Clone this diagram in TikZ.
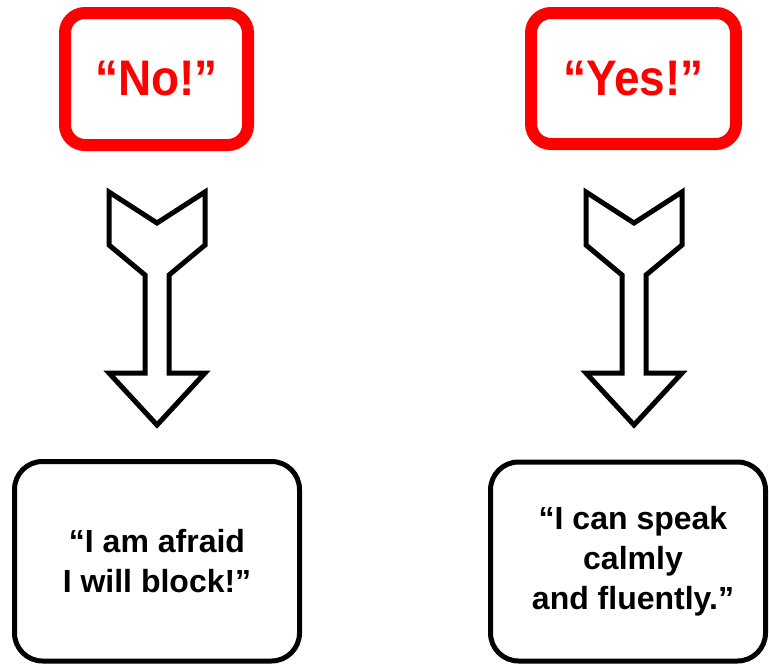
\documentclass[tikz,border=0pt]{standalone}
\usepackage{fontspec}
\setmainfont{Liberation Sans}
\newfontfamily\redfont[FakeStretch=0.92]{Liberation Sans}
\begin{document}
\begin{tikzpicture}[x=1pt,y=-1pt,
  redbox/.style={draw=red, line width=12pt, rounded corners=20pt, text=red,
    font=\redfont\bfseries\fontsize{50}{60}\selectfont, inner sep=0pt},
  blackbox/.style={draw=black, line width=5pt, rounded corners=28pt, align=center,
    font=\bfseries\fontsize{32}{40}\selectfont, inner sep=0pt},
  blockarrow/.style={draw=black, line width=5pt, line join=miter, fill=white}
]
\useasboundingbox (0,0) rectangle (769,664);
% top red boxes
\node[redbox, minimum width=183pt, minimum height=132pt] (no) at (156.5,79) {“No!”};
\node[redbox, minimum width=205pt, minimum height=131pt] (yes) at (633.5,78.5) {“Yes!”};
% bottom black boxes
\node[blackbox, minimum width=285pt, minimum height=199.5pt] (afraid) at (157,561.25)
  {“I am afraid\\I will block!”};
\node[blackbox, minimum width=275pt, minimum height=199pt] (calm) at (628,561.5)
  {\hspace*{10pt}“I can speak\\\hspace*{10pt}calmly\\\hspace*{10pt}and fluently.”};
% block arrows
\coordinate (la) at (157,0);
\coordinate (ra) at (634,0);
\foreach \c in {la,ra}{
  \draw[blockarrow] ([shift={(-48,192)}]\c) -- ([shift={(0,223)}]\c) -- ([shift={(48,192)}]\c)
    -- ([shift={(48,245)}]\c) -- ([shift={(12,275)}]\c) -- ([shift={(12,373)}]\c)
    -- ([shift={(48,373)}]\c) -- ([shift={(0,425)}]\c) -- ([shift={(-48,373)}]\c)
    -- ([shift={(-12,373)}]\c) -- ([shift={(-12,275)}]\c) -- ([shift={(-48,245)}]\c) -- cycle;
}
\end{tikzpicture}
\end{document}
